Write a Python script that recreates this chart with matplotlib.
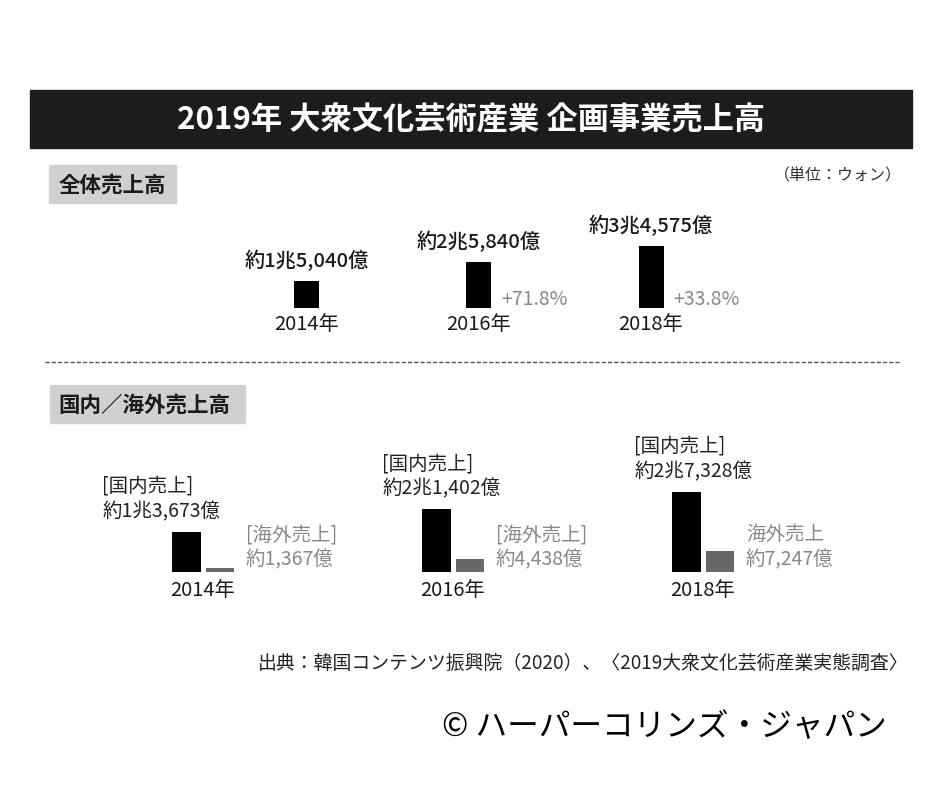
import numpy as np
import matplotlib.pyplot as plt
from matplotlib.patches import Rectangle

plt.rcParams['font.family'] = ['Noto Sans CJK JP', 'DejaVu Sans']

# data
years = ['2014年', '2016年', '2018年']
total = [15040, 25840, 34575]          # 億ウォン
total_labels = ['約1兆5,040億', '約2兆5,840億', '約3兆4,575億']
growth = ['', '+71.8%', '+33.8%']
domestic = [13673, 21402, 27328]
overseas = [1367, 4438, 7247]
domestic_labels = ['[国内売上]\n約1兆3,673億', '[国内売上]\n約2兆1,402億', '[国内売上]\n約2兆7,328億']
overseas_labels = ['[海外売上]\n約1,367億', '[海外売上]\n約4,438億', '海外売上\n約7,247億']

W, H = 940, 788
fig = plt.figure(figsize=(W/100, H/100), dpi=100)
fig.patch.set_facecolor('white')

# background / decoration layer in pixel coords
bg = fig.add_axes([0, 0, 1, 1])
bg.set_xlim(0, W)
bg.set_ylim(H, 0)
bg.axis('off')

bg.add_patch(Rectangle((30, 90), 882, 58, color='#1c1c1c'))
bg.text(471, 120, '2019年 大衆文化芸術産業 企画事業売上高', color='white',
        fontsize=22.5, fontweight='bold', ha='center', va='center')

bg.add_patch(Rectangle((49, 165), 127, 38, color='#d0d0d0'))
bg.text(59, 185, '全体売上高', fontsize=15.5, fontweight='bold', color='#1a1a1a', va='center')
bg.text(902, 176, '（単位：ウォン）', fontsize=11.5, color='#333333', ha='right', va='center')

bg.plot([45, 900], [362, 362], color='#555555', lw=1, dashes=(3, 1.5))

bg.add_patch(Rectangle((50, 385), 195, 38, color='#d0d0d0'))
bg.text(58, 405, '国内／海外売上高', fontsize=15.5, fontweight='bold', color='#1a1a1a', va='center')

bg.text(908, 663, '出典：韓国コンテンツ振興院（2020）、〈2019大衆文化芸術産業実態調査〉',
        fontsize=13.6, color='#222222', ha='right', va='center')
bg.text(664, 727, '© ハーパーコリンズ・ジャパン', fontsize=22.8, color='black',
        ha='center', va='center')


def bar_axes(left, right, bottom, top, x0, dx, px_per_unit):
    # axes whose category step is dx pixels and value scale px_per_unit
    ax = fig.add_axes([left/W, 1-bottom/H, (right-left)/W, (bottom-top)/H])
    ax.set_xlim((left-x0)/dx, (right-x0)/dx)
    ax.set_ylim(0, (bottom-top)/px_per_unit)
    ax.axis('off')
    ax.patch.set_alpha(0)
    return ax


# top: total sales
dx1 = 172.25
ax1 = bar_axes(200, 760, 308, 180, 306.5, dx1, 1.783/1000)
x1 = np.arange(len(years))
w1 = 25/dx1
ax1.bar(x1, total, width=w1, color='black')
for i in range(len(years)):
    ax1.annotate(total_labels[i], xy=(x1[i], total[i]), xytext=(0, 21), textcoords='offset pixels',
                 ha='center', va='center', fontsize=14.5, color='#1a1a1a', fontweight='medium')
    ax1.annotate(years[i], xy=(x1[i], 0), xytext=(0, -17), textcoords='offset pixels',
                 ha='center', va='center', fontsize=14.5, color='#1a1a1a')
    if growth[i]:
        ax1.annotate(growth[i], xy=(x1[i]+w1/2, 0), xytext=(10, 8), textcoords='offset pixels',
                     ha='left', va='center', fontsize=14, color='#888888')

# bottom: domestic / overseas
dx2 = 250
ax2 = bar_axes(60, 880, 572, 420, 203, dx2, 2.93/1000)
x2 = np.arange(len(years))
off = 17/dx2
wd, wo = 29/dx2, 28/dx2
ax2.bar(x2-off, domestic, width=wd, color='black')
ax2.bar(x2+off, overseas, width=wo, color='#686868')
lab_shift = [-69, -39, -37]
for i in range(len(years)):
    ax2.annotate(domestic_labels[i], xy=(x2[i]-off-wd/2, domestic[i]), xytext=(lab_shift[i], 10),
                 textcoords='offset pixels', ha='left', va='bottom', fontsize=14,
                 color='#222222', linespacing=1.25)
    ax2.annotate(overseas_labels[i], xy=(x2[i]+off+wo/2, 0), xytext=(12, 2),
                 textcoords='offset pixels', ha='left', va='bottom', fontsize=14,
                 color='#888888', linespacing=1.25)
    ax2.annotate(years[i], xy=(x2[i], 0), xytext=(0, -19), textcoords='offset pixels',
                 ha='center', va='center', fontsize=14.5, color='#1a1a1a')

fig.savefig('out.png', dpi=100)
